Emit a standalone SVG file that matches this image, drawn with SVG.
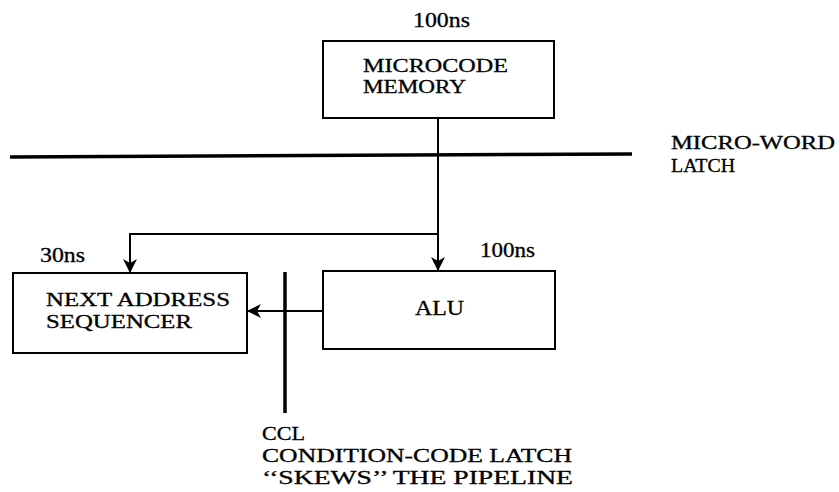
<svg xmlns="http://www.w3.org/2000/svg" width="839" height="492" viewBox="0 0 839 492">
<style>
text{font-family:"Liberation Serif","DejaVu Serif",serif;font-size:20px;fill:#000;stroke:#000;stroke-width:0.3}
text.t{font-size:18.5px}
.box{fill:#fff;stroke:#000;stroke-width:2}
.ln{fill:none;stroke:#000;stroke-width:2}
.thick{fill:none;stroke:#000;stroke-width:3.5}
</style>
<defs>
<marker id="ah" viewBox="0 0 14 14" refX="13" refY="7" markerWidth="14" markerHeight="14" markerUnits="userSpaceOnUse" orient="auto">
<path d="M0,0 L14,7 L0,14 L4,7 Z" fill="#000"/>
</marker>
</defs>
<g id="microcode">
<rect class="box" x="323" y="41" width="231" height="77"/>
<text class="t" x="363" y="72" textLength="145" lengthAdjust="spacingAndGlyphs">MICROCODE</text>
<text class="t" x="363" y="93" textLength="103" lengthAdjust="spacingAndGlyphs">MEMORY</text>
<text x="413" y="27" textLength="57" lengthAdjust="spacingAndGlyphs">100ns</text>
</g>
<g id="nas">
<rect class="box" x="13" y="273" width="234" height="80"/>
<text class="t" x="46" y="306" textLength="184" lengthAdjust="spacingAndGlyphs">NEXT ADDRESS</text>
<text class="t" x="46" y="328" textLength="146" lengthAdjust="spacingAndGlyphs">SEQUENCER</text>
<text x="40" y="262" textLength="45" lengthAdjust="spacingAndGlyphs">30ns</text>
</g>
<g id="alu">
<rect class="box" x="323" y="271" width="232" height="78"/>
<text x="415" y="315" textLength="49" lengthAdjust="spacingAndGlyphs">ALU</text>
<text x="480" y="257" textLength="55" lengthAdjust="spacingAndGlyphs">100ns</text>
</g>
<g id="mwlatch">
<line class="thick" x1="10" y1="157" x2="632" y2="154"/>
<text class="t" x="671" y="149" textLength="164" lengthAdjust="spacingAndGlyphs">MICRO-WORD</text>
<text class="t" x="671" y="172" textLength="64" lengthAdjust="spacingAndGlyphs">LATCH</text>
</g>
<g id="ccl">
<line class="thick" x1="285" y1="272" x2="285" y2="413"/>
<text class="t" x="262" y="440" textLength="43" lengthAdjust="spacingAndGlyphs">CCL</text>
<text class="t" x="262" y="462" textLength="310" lengthAdjust="spacingAndGlyphs">CONDITION-CODE LATCH</text>
<text class="t" x="262" y="484" textLength="311" lengthAdjust="spacingAndGlyphs">‘‘SKEWS’’  THE  PIPELINE</text>
</g>
<g id="connectors">
<path class="ln" d="M438,118 V270" marker-end="url(#ah)"/>
<path class="ln" d="M438,234 H130 V272" marker-end="url(#ah)"/>
<path class="ln" d="M323,311 H248" marker-end="url(#ah)"/>
</g>
</svg>
